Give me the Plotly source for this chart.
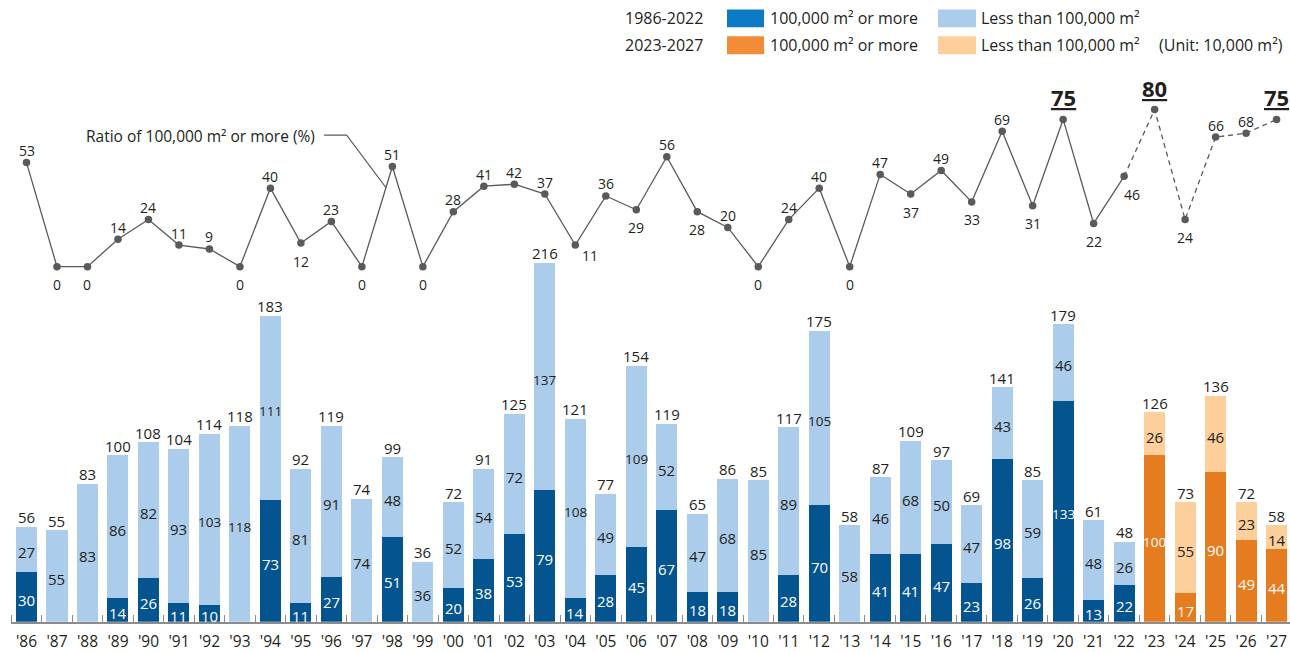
import plotly.graph_objects as go

# ---------------------------------------------------------------- data
YEAR_LABELS = ["'86", "'87", "'88", "'89", "'90", "'91", "'92", "'93", "'94", "'95",
               "'96", "'97", "'98", "'99", "'00", "'01", "'02", "'03", "'04", "'05",
               "'06", "'07", "'08", "'09", "'10", "'11", "'12", "'13", "'14", "'15",
               "'16", "'17", "'18", "'19", "'20", "'21", "'22", "'23", "'24", "'25",
               "'26", "'27"]

# Supply of buildings with 100,000 m2 or more (unit: 10,000 m2)
LARGE = [30, 0, 0, 14, 26, 11, 10, 0, 73, 11,
         27, 0, 51, 0, 20, 38, 53, 79, 14, 28,
         45, 67, 18, 18, 0, 28, 70, 0, 41, 41,
         47, 23, 98, 26, 133, 13, 22, 100, 17, 90,
         49, 44]

# Supply of buildings with less than 100,000 m2 (unit: 10,000 m2)
SMALL = [27, 55, 83, 86, 82, 93, 103, 118, 111, 81,
         91, 74, 48, 36, 52, 54, 72, 137, 108, 49,
         109, 52, 47, 68, 85, 89, 105, 58, 46, 68,
         50, 47, 43, 59, 46, 48, 26, 26, 55, 46,
         23, 14]

# Published yearly totals (unit: 10,000 m2)
TOTAL = [56, 55, 83, 100, 108, 104, 114, 118, 183, 92,
         119, 74, 99, 36, 72, 91, 125, 216, 121, 77,
         154, 119, 65, 86, 85, 117, 175, 58, 87, 109,
         97, 69, 141, 85, 179, 61, 48, 126, 73, 136,
         72, 58]

# Ratio of 100,000 m2 or more (%)
RATIO = [53, 0, 0, 14, 24, 11, 9, 0, 40, 12,
         23, 0, 51, 0, 28, 41, 42, 37, 11, 36,
         29, 56, 28, 20, 0, 24, 40, 0, 47, 37,
         49, 33, 69, 31, 75, 22, 46, 80, 24, 66,
         68, 75]

FIRST_FORECAST = "'23"
HIGHLIGHTED = ["'20", "'23", "'27"]

# where each ratio label sits relative to its point
RATIO_LABEL_SIDE = ["up", "down", "down", "up", "up", "up", "up", "down", "up", "down",
                    "up", "down", "up", "down", "up", "up", "up", "up", "down-right", "up",
                    "down", "up", "down", "up", "down", "up", "up", "down", "up", "down",
                    "up", "down", "up", "down", "up", "down", "down-right-near", "up", "down", "up",
                    "up", "up"]

# ---------------------------------------------------------------- style
W, H = 1290, 652
FONT = "Open Sans, Noto Sans, sans-serif"
INK = "#231f20"
AXIS_GREY = "#8c8c8c"
LINE_GREY = "#5a5a5a"

DARK_BLUE = "#04548f"
LIGHT_BLUE = "#abcdeb"
DARK_ORANGE = "#e57c20"
LIGHT_ORANGE = "#fdcf9b"
LEGEND_BLUE = "#0a7bc4"
LEGEND_ORANGE = "#f28c36"

BASE_PX = 625.5          # pixel row of the zero line
BAR_PX_PER_UNIT = 1.672  # bar scale
RATIO_ZERO_PX = 268.3    # pixel row of ratio = 0
RATIO_PX_PER_PCT = 1.975
X_LEFT_PX = 11.25        # left end of the base line
SLOT_PX = 30.49          # distance between bar centres

n = len(YEAR_LABELS)
xs = list(range(n))
first_fc = YEAR_LABELS.index(FIRST_FORECAST)
is_fc = [i >= first_fc for i in xs]

dark_colors = [DARK_ORANGE if f else DARK_BLUE for f in is_fc]
light_colors = [LIGHT_ORANGE if f else LIGHT_BLUE for f in is_fc]

fig = go.Figure()

fig.add_trace(go.Bar(x=xs, y=LARGE, marker=dict(color=dark_colors, line_width=0),
                     width=0.69, hoverinfo="skip"))
fig.add_trace(go.Bar(x=xs, y=SMALL, marker=dict(color=light_colors, line_width=0),
                     width=0.69, hoverinfo="skip"))

# ratio line: actual years solid, forecast years dashed
last_actual = first_fc - 1
fig.add_trace(go.Scatter(x=xs[:last_actual + 1], y=RATIO[:last_actual + 1], yaxis="y2",
                         mode="lines", line=dict(color=LINE_GREY, width=1.3),
                         hoverinfo="skip", cliponaxis=False))
fig.add_trace(go.Scatter(x=xs[last_actual:], y=RATIO[last_actual:], yaxis="y2",
                         mode="lines", line=dict(color=LINE_GREY, width=1.3, dash="5px,4px"),
                         hoverinfo="skip", cliponaxis=False))
fig.add_trace(go.Scatter(x=xs, y=RATIO, yaxis="y2", mode="markers",
                         marker=dict(color=LINE_GREY, size=7.5, line_width=0),
                         hoverinfo="skip", cliponaxis=False))

annotations = []


def seg_font(value, color):
    # three-digit numbers are set smaller so they fit inside the bar
    size = 13.5 if len(str(value)) >= 3 else 15
    return dict(family=FONT, size=size, color=color)


# numbers on bars
for i in xs:
    lg, sm, tot = LARGE[i], SMALL[i], TOTAL[i]
    annotations.append(dict(x=i, y=lg + sm, text=str(tot), showarrow=False,
                            yanchor="middle", yshift=9.5,
                            font=dict(family=FONT, size=15, color=INK)))
    if sm > 0:
        annotations.append(dict(x=i, y=lg + sm / 2, text=str(sm), showarrow=False,
                                yanchor="middle", yshift=-3,
                                font=seg_font(sm, INK)))
    if lg > 0:
        annotations.append(dict(x=i, y=lg / 2, text=str(lg), showarrow=False,
                                yanchor="middle", yshift=-3,
                                font=seg_font(lg, "white")))

# numbers on the ratio line
side_shift = {"up": (0, 12), "down": (0, -18), "down-right": (15, -10),
              "down-right-near": (8, -18)}
for i in xs:
    if YEAR_LABELS[i] in HIGHLIGHTED:
        annotations.append(dict(x=i, y=RATIO[i], yref="y2", showarrow=False,
                                text="<b><u>%d</u></b>" % RATIO[i], yanchor="middle",
                                yshift=22, font=dict(family=FONT, size=22, color=INK)))
        continue
    dx, dy = side_shift[RATIO_LABEL_SIDE[i]]
    annotations.append(dict(x=i, y=RATIO[i], yref="y2", showarrow=False,
                            text=str(RATIO[i]), yanchor="middle", xshift=dx, yshift=dy,
                            font=dict(family=FONT, size=14, color=INK)))

# callout for the ratio line, pointing at the '97-'98 segment
k = YEAR_LABELS.index("'97")
t = 0.79
tip_x = k + t
tip_y = RATIO[k] + t * (RATIO[k + 1] - RATIO[k])
elbow_x, elbow_y = 10.5, 67.0
shapes = [dict(type="path", xref="x", yref="y2",
               path=f"M 9.76 {elbow_y} L {elbow_x} {elbow_y} L {tip_x} {tip_y}",
               line=dict(color=LINE_GREY, width=1.1))]
annotations.append(dict(x=9.53, y=elbow_y, yref="y2", xanchor="right", yanchor="middle",
                        yshift=-1, showarrow=False,
                        text="Ratio of 100,000 m² or more (%)",
                        font=dict(family=FONT, size=15.5, color=INK)))


# legend block drawn in pixel units
def px(x):
    return x / W


def py(y):
    return 1 - y / H


legend_rows = [("1986-2022", LEGEND_BLUE, LIGHT_BLUE, 18.5),
               ("2023-2027", LEGEND_ORANGE, LIGHT_ORANGE, 45.5)]
for label, c_big, c_small, yc in legend_rows:
    annotations.append(dict(xref="paper", yref="paper", x=px(623), y=py(yc),
                            xanchor="left", yanchor="middle", showarrow=False, text=label,
                            font=dict(family=FONT, size=16, color=INK)))
    shapes.append(dict(type="rect", xref="paper", yref="paper",
                       x0=px(727), x1=px(764), y0=py(yc - 9), y1=py(yc + 9),
                       fillcolor=c_big, line_width=0))
    annotations.append(dict(xref="paper", yref="paper", x=px(768), y=py(yc),
                            xanchor="left", yanchor="middle", showarrow=False,
                            text="100,000 m² or more",
                            font=dict(family=FONT, size=16, color=INK)))
    shapes.append(dict(type="rect", xref="paper", yref="paper",
                       x0=px(938), x1=px(976), y0=py(yc - 9), y1=py(yc + 9),
                       fillcolor=c_small, line_width=0))
    annotations.append(dict(xref="paper", yref="paper", x=px(979), y=py(yc),
                            xanchor="left", yanchor="middle", showarrow=False,
                            text="Less than 100,000 m²",
                            font=dict(family=FONT, size=16, color=INK)))
annotations.append(dict(xref="paper", yref="paper", x=px(1157), y=py(45.5),
                        xanchor="left", yanchor="middle", showarrow=False,
                        text="(Unit: 10,000 m²)",
                        font=dict(family=FONT, size=16, color=INK)))

x_lo = -0.5
x_hi = x_lo + (W - X_LEFT_PX) / SLOT_PX
y_dom = [1 - BASE_PX / H, 1]

fig.update_layout(
    width=W, height=H,
    margin=dict(l=0, r=0, t=0, b=0),
    paper_bgcolor="white", plot_bgcolor="white",
    barmode="stack", bargap=0.31,
    showlegend=False,
    font=dict(family=FONT, color=INK),
    xaxis=dict(domain=[X_LEFT_PX / W, 1], range=[x_lo, x_hi],
               tickmode="array", tickvals=xs, ticktext=YEAR_LABELS,
               ticks="", tickfont=dict(family=FONT, size=15.5, color=INK),
               ticklabelstandoff=5,
               showline=True, linecolor=AXIS_GREY, linewidth=2,
               showgrid=False, zeroline=False, fixedrange=True,
               minor=dict(tickmode="array", tickvals=[i - 0.5 for i in xs],
                          ticks="inside", ticklen=7, tickwidth=1.3,
                          tickcolor=AXIS_GREY, showgrid=False)),
    yaxis=dict(domain=y_dom, range=[0, BASE_PX / BAR_PX_PER_UNIT], visible=False,
               showgrid=False, zeroline=False, fixedrange=True),
    yaxis2=dict(overlaying="y",
                range=[-(BASE_PX - RATIO_ZERO_PX) / RATIO_PX_PER_PCT,
                       RATIO_ZERO_PX / RATIO_PX_PER_PCT],
                visible=False, showgrid=False, zeroline=False, fixedrange=True),
    annotations=annotations,
    shapes=shapes,
)

fig.write_html("out.html")
